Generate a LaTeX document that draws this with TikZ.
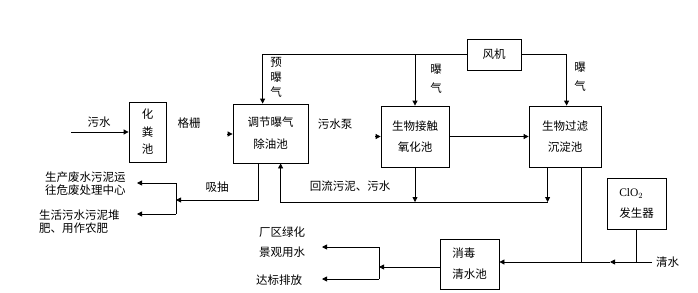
\documentclass[tikz,border=0pt]{standalone}
\usepackage{fontspec}
\newfontfamily\cjk{Noto Sans CJK SC}
\newfontfamily\latinserif{Liberation Serif}
\usetikzlibrary{arrows.meta,calc}
\begin{document}
\begin{tikzpicture}[x=1pt,y=-1pt,
  ln/.style={line width=0.8pt},
  arr/.style={ln,-{Triangle[length=5pt,width=5pt]}},
  box/.style={draw,line width=0.8pt,inner sep=0pt,font=\cjk\fontsize{11.5}{21}\selectfont,align=center},
  lbl/.style={font=\cjk\fontsize{11.5}{13}\selectfont,inner sep=0pt}]
\useasboundingbox (0,0) rectangle (698,292);
% boxes
\node[box,minimum width=37,minimum height=60,font=\cjk\fontsize{11.5}{17.5}\selectfont] (hfc) at (147.5,132) {化\\粪\\池};
\node[box,minimum width=75,minimum height=59] (tj) at (270.5,133.5) {调节曝气\\[1pt]除油池};
\node[box,minimum width=68,minimum height=61] (sw) at (415,136.5) {生物接触\\氧化池};
\node[box,minimum width=54,minimum height=31] (fan) at (494,54.5) {风机};
\node[box,minimum width=72,minimum height=61] (sl) at (565,136.5) {生物过滤\\沉淀池};
\node[box,minimum width=59,minimum height=51,align=left] (clo) at (636.5,203.5) {\latinserif ClO$_2$\\发生器};
\node[box,minimum width=59,minimum height=50,align=left] (xd) at (469.5,264) {消毒\\清水池};
% labels
\node[lbl] (l1) at (99,122) {污水};
\node[lbl] (l2) at (189,123) {格栅};
\node[lbl] (l3) at (335,124) {污水泵};
\node[lbl,align=center,font=\cjk\fontsize{11.5}{15}\selectfont] (l4) at (276,77) {预\\曝\\气};
\node[lbl,align=center,font=\cjk\fontsize{11.5}{19}\selectfont] (l5) at (436,78.5) {曝\\气};
\node[lbl,align=center,font=\cjk\fontsize{11.5}{19}\selectfont] (l6) at (580,77) {曝\\气};
\node[lbl] (l7) at (350,186) {回流污泥、污水};
\node[lbl] (l8) at (217,187) {吸抽};
\node[lbl,anchor=west,align=left] (l9) at (45,183.5) {生产废水污泥运\\往危废处理中心};
\node[lbl,anchor=west,align=left] (l10) at (39,222) {生活污水污泥堆\\肥、用作农肥};
\node[lbl,anchor=west,align=left,font=\cjk\fontsize{11.5}{20}\selectfont] (l11) at (259,242) {厂区绿化\\景观用水};
\node[lbl,anchor=west] (l12) at (256,280) {达标排放};
\node[lbl,anchor=west] (l13) at (656,262) {清水};
% connectors
\coordinate (ws) at (71,132);
\draw[arr] (ws) -- (hfc.west);
\coordinate (g1) at (227,134);
\draw[arr] (g1) -- (g1 -| tj.west);
\coordinate (g2) at (375,136.5);
\draw[arr] (g2) -- (g2 -| sw.west);
\draw[arr] (sw.east) -- (sl.west);
% fan
\coordinate (pa) at ($(tj.north west)+(30,0)$);
\draw[arr] (fan.west) -| (pa);
\draw[arr] (sw.north |- fan.west) -- (sw.north);
\coordinate (pb) at ($(sl.north west)+(38,0)$);
\draw[arr] (fan.east) -| (pb);
% return
\coordinate (rl) at (0,202);
\draw[arr] (sw.south) -- (sw.south |- rl);
\coordinate (r1) at ($(sl.south west)+(19,0)$);
\coordinate (r2) at (r1 |- rl);
\draw[arr] (r1) -- (r2);
\coordinate (r3) at ($(tj.south west)+(48,0)$);
\draw[arr] (r2) -| (r3);
% sludge
\coordinate (s1) at ($(tj.south west)+(26,0)$);
\coordinate (s2) at (176,200);
\draw[arr] (s1) |- (s2);
\coordinate (s3) at (176,183);
\coordinate (s4) at (176,214);
\draw[ln] (s3) -- (s4);
\draw[arr] (s3) -- (137,183);
\draw[arr] (s4) -- (137,214);
% clean water
\coordinate (cw) at (652,262);
\coordinate (cm) at (610,262);
\draw[arr] (cw) -- (cm);
\draw[arr] (cm) -- (cm -| xd.east);
\draw[ln] (clo.south) -- (clo.south |- cw);
\coordinate (c1) at ($(sl.south west)+(53,0)$);
\draw[ln] (c1) -- (c1 |- cw);
% outlet
\coordinate (o1) at (379,267);
\draw[arr] (xd.west |- o1) -- (o1);
\coordinate (o2) at (379,247);
\coordinate (o3) at (379,279);
\draw[ln] (o2) -- (o3);
\draw[arr] (o2) -- (322,247);
\draw[arr] (o3) -- (322,279);
\end{tikzpicture}
\end{document}
